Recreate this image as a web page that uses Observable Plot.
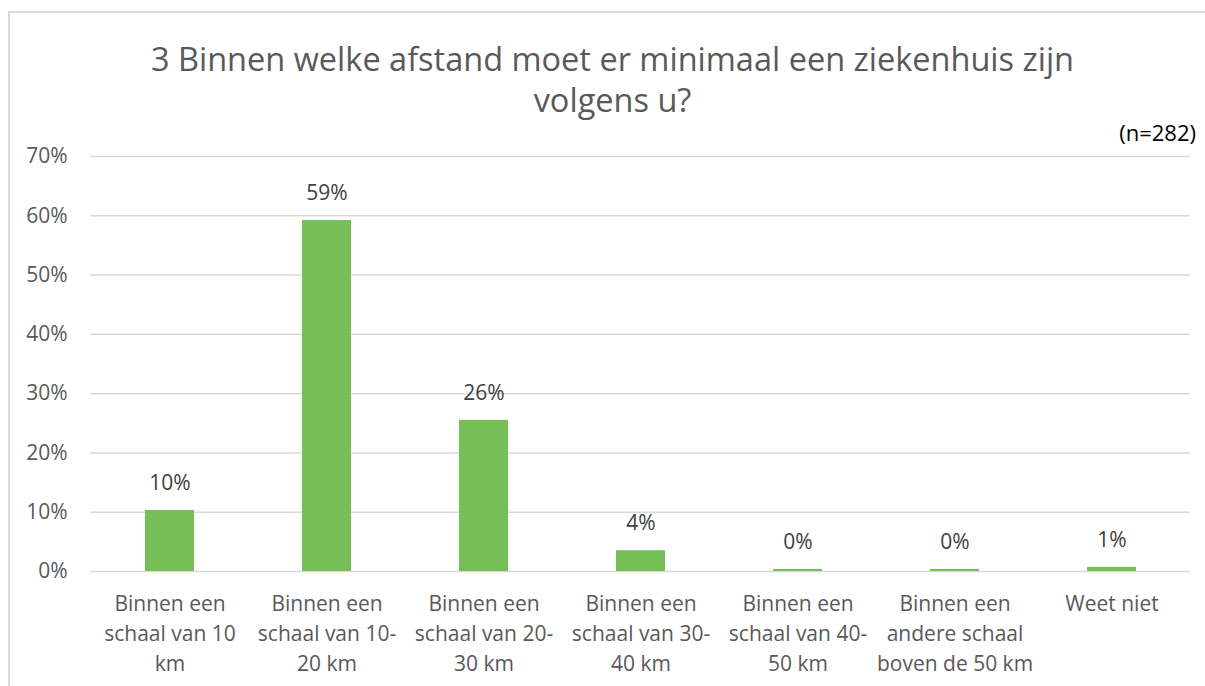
<!DOCTYPE html>
<html>
<head>
<meta charset="utf-8">
<script src="https://cdn.jsdelivr.net/npm/d3@7"></script>
<script src="https://cdn.jsdelivr.net/npm/@observablehq/plot@0.6"></script>
<style>
  html, body { margin: 0; padding: 0; background: #fff; }
  #wrap { position: relative; width: 1205px; height: 686px; overflow: hidden; font-family: "Open Sans", sans-serif; }
  #frame { position: absolute; left: 8px; top: 11px; width: 1400px; height: 900px; border: 2px solid #d9d9d9; box-sizing: border-box; }
  #title { position: absolute; left: 0; width: 1225px; top: 38px; text-align: center; font-size: 32.5px; line-height: 41px; color: #595959; }
  #n { position: absolute; right: 9px; top: 117px; font-size: 22px; color: #000; }
  #chart { position: absolute; left: 0; top: 0; }
</style>
</head>
<body>
<div id="wrap">
  <div id="frame"></div>
  <div id="chart"></div>
  <div id="title">3 Binnen welke afstand moet er minimaal een ziekenhuis zijn<br>volgens u?</div>
  <div id="n">(n=282)</div>
</div>
<script>
const categories = [
  "Binnen een\nschaal van 10\nkm",
  "Binnen een\nschaal van 10-\n20 km",
  "Binnen een\nschaal van 20-\n30 km",
  "Binnen een\nschaal van 30-\n40 km",
  "Binnen een\nschaal van 40-\n50 km",
  "Binnen een\nandere schaal\nboven de 50 km",
  "Weet niet"
];
const values = [0.103, 0.592, 0.255, 0.035, 0.0035, 0.0035, 0.007];
const valueLabels = ["10%", "59%", "26%", "4%", "0%", "0%", "1%"];
const yTicks = [0, 0.1, 0.2, 0.3, 0.4, 0.5, 0.6, 0.7];

const data = categories.map((c, i) => ({cat: c, value: values[i], label: valueLabels[i]}));

const chart = Plot.plot({
  width: 1205,
  height: 686,
  marginTop: 156,
  marginBottom: 115,
  marginLeft: 90,
  marginRight: 15,
  style: {fontFamily: "'Open Sans', sans-serif", background: "transparent"},
  x: {domain: categories, paddingInner: 0.69, paddingOuter: 0.345, label: null},
  y: {domain: [0, 0.7], label: null},
  marks: [
    Plot.gridY(yTicks, {stroke: "#d9d9d9", strokeOpacity: 1, strokeWidth: 1.5}),
    Plot.axisY(yTicks, {tickSize: 0, tickPadding: 23, tickFormat: d => Math.round(d * 100) + "%", fontSize: 21, fill: "#595959", label: null}),
    Plot.axisX({tickSize: 0, tickPadding: 18, fontSize: 21, lineHeight: 1.43, fill: "#595959", label: null, lineAnchor: "top"}),
    Plot.barY(data, {x: "cat", y: "value", fill: "#75bf56"}),
    Plot.text(data, {x: "cat", y: "value", text: "label", dy: -27, fontSize: 21, fill: "#404040"})
  ]
});
document.getElementById("chart").appendChild(chart);
</script>
</body>
</html>
